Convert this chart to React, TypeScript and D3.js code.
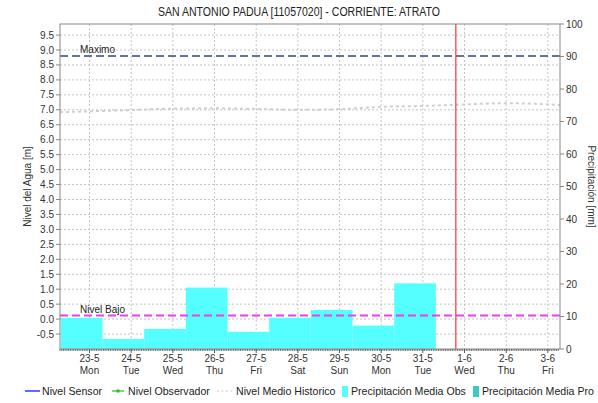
import React from "react";
import * as d3 from "d3";

// days shown on the x axis (2022)
const dayLabels = ["23-5", "24-5", "25-5", "26-5", "27-5", "28-5", "29-5", "30-5", "31-5", "1-6", "2-6", "3-6"];
const weekdays = ["Mon", "Tue", "Wed", "Thu", "Fri", "Sat", "Sun", "Mon", "Tue", "Wed", "Thu", "Fri"];
const dayDates = ["2022-05-23", "2022-05-24", "2022-05-25", "2022-05-26", "2022-05-27", "2022-05-28", "2022-05-29", "2022-05-30", "2022-05-31", "2022-06-01", "2022-06-02", "2022-06-03"];

// precipitacion media obs [mm], one bar per day (7am to 7am)
const precipDays = ["2022-05-23", "2022-05-24", "2022-05-25", "2022-05-26", "2022-05-27", "2022-05-28", "2022-05-29", "2022-05-30", "2022-05-31"];
const precipObs = [9.6, 3.1, 6.2, 18.9, 5.3, 9.6, 12.0, 7.2, 20.2];

// nivel medio historico [m]
const histDates = ["2022-05-22T07:00", "2022-05-23", "2022-05-24", "2022-05-25", "2022-05-26", "2022-05-27", "2022-05-28", "2022-05-29", "2022-05-30", "2022-05-31", "2022-06-01", "2022-06-02", "2022-06-03T07:00"];
const histValues = [6.92, 6.95, 6.99, 7.04, 7.05, 7.03, 7.0, 7.02, 7.1, 7.13, 7.18, 7.22, 7.16];

const maximo = 8.8;
const nivelBajo = 0.12;
const nowTime = "2022-05-31T19:00";

const leftTicks = d3.range(-0.5, 9.51, 0.5);
const rightTicks = d3.range(0, 101, 10);

const W = 598, H = 403;
const m = { top: 24, left: 60, right: 38, bottom: 54 };
const font = "'Liberation Sans', Arial, sans-serif";

const dt = (s: string) => new Date(s.length > 10 ? s + ":00Z" : s + "T00:00:00Z");

export default function App() {
  const x = d3.scaleUtc()
    .domain([dt("2022-05-22T07:00"), dt("2022-06-03T07:00")])
    .range([m.left, W - m.right]);
  const y = d3.scaleLinear().domain([-1, 9.87]).range([H - m.bottom, m.top]);
  const y2 = d3.scaleLinear().domain([0, 100]).range([H - m.bottom, m.top]);

  const x0 = m.left, x1 = W - m.right, yb = H - m.bottom, yt = m.top;
  const hours = d3.utcHour.every(1)!.range(x.domain()[0], x.domain()[1]);

  const histLine = d3.line<number>()
    .x((_, i) => x(dt(histDates[i])))
    .y(d => y(d))
    .curve(d3.curveMonotoneX);

  const gridColor = "#c4c4c4";

  return (
    <svg width={W} height={H} style={{ position: "absolute", left: 0, top: 0, background: "#fff" }} fontFamily={font}>
      <rect width={W} height={H} fill="#fff" />
      <text x={W / 2} y={16} textAnchor="middle" fontSize={12} fill="#222" textLength={282} lengthAdjust="spacingAndGlyphs">
        SAN ANTONIO PADUA [11057020] - CORRIENTE: ATRATO
      </text>

      <defs>
        <clipPath id="plot">
          <rect x={x0} y={yt} width={x1 - x0} height={yb - yt} />
        </clipPath>
      </defs>

      {/* grid */}
      {leftTicks.map(t => (
        <line key={"h" + t} x1={x0} x2={x1} y1={y(t)} y2={y(t)} stroke={gridColor} strokeDasharray="2,2" />
      ))}
      {dayDates.map(d => (
        <line key={"v" + d} x1={x(dt(d))} x2={x(dt(d))} y1={yt} y2={yb} stroke={gridColor} strokeDasharray="2,2" />
      ))}

      {/* precipitation bars */}
      <g clipPath="url(#plot)">
        {precipDays.map((d, i) => {
          const end = d3.utcMinute.offset(dt(d), 7 * 60 + 30);
          const start = d3.utcDay.offset(end, -1);
          return (
            <rect key={d} x={x(start)} width={x(end) - x(start)} y={y2(precipObs[i])}
              height={yb - y2(precipObs[i])} fill="#55ffff" />
          );
        })}

        <path d={histLine(histValues) || ""} fill="none" stroke="#cfcfcf" strokeWidth={2} strokeDasharray="3,3" />

        <line x1={x0} x2={x1} y1={y(maximo)} y2={y(maximo)} stroke="#6272a6" strokeWidth={2} strokeDasharray="8,4" />
        <line x1={x0} x2={x1} y1={y(nivelBajo)} y2={y(nivelBajo)} stroke="#f03cf0" strokeWidth={2} strokeDasharray="8,4" />
        <line x1={x(dt(nowTime))} x2={x(dt(nowTime))} y1={yt} y2={yb} stroke="#ff3030" strokeWidth={1.2} />
      </g>
      <text x={80} y={y(maximo) - 3} fontSize={10} fill="#222">Maximo</text>
      <text x={80} y={y(nivelBajo) - 3} fontSize={10} fill="#222">Nivel Bajo</text>

      {/* frame */}
      <rect x={x0} y={yt} width={x1 - x0} height={yb - yt} fill="none" stroke="#888" />

      {/* left axis */}
      {leftTicks.map(t => (
        <g key={"l" + t}>
          <line x1={x0 - 4} x2={x0} y1={y(t)} y2={y(t)} stroke="#888" />
          <text x={x0 - 6} y={y(t) + 3.5} textAnchor="end" fontSize={10} fill="#333">{t.toFixed(1)}</text>
        </g>
      ))}
      <text transform={`translate(31,${(yt + yb) / 2}) rotate(-90)`} textAnchor="middle" fontSize={10} fill="#333">
        Nivel del Agua [m]
      </text>

      {/* right axis */}
      {rightTicks.map(t => (
        <g key={"r" + t}>
          <line x1={x1} x2={x1 + 4} y1={y2(t)} y2={y2(t)} stroke="#888" />
          <text x={x1 + 6} y={y2(t) + 3.5} fontSize={10} fill="#333">{t}</text>
        </g>
      ))}
      <text transform={`translate(588,${(yt + yb) / 2}) rotate(90)`} textAnchor="middle" fontSize={10} fill="#333">
        Precipitación [mm]
      </text>

      {/* bottom axis */}
      {hours.map(h => (
        <line key={+h} x1={x(h)} x2={x(h)} y1={yb} y2={yb + 2} stroke="#555" strokeWidth={0.8} />
      ))}
      {dayDates.map((d, i) => (
        <g key={"b" + d}>
          <line x1={x(dt(d))} x2={x(dt(d))} y1={yb} y2={yb + 4} stroke="#555" />
          <text x={x(dt(d))} y={yb + 13} textAnchor="middle" fontSize={10} fill="#333">{dayLabels[i]}</text>
          <text x={x(dt(d))} y={yb + 25} textAnchor="middle" fontSize={10} fill="#333">{weekdays[i]}</text>
        </g>
      ))}

      {/* legend */}
      <g fontSize={10.6} fill="#222">
        <line x1={25} x2={40} y1={391} y2={391} stroke="#0000ff" strokeWidth={1.2} />
        <text x={42} y={395}>Nivel Sensor</text>
        <line x1={112} x2={124} y1={391} y2={391} stroke="#33bb22" strokeWidth={1.2} />
        <rect x={116.5} y={389.5} width={3} height={3} fill="#33bb22" />
        <text x={128} y={395}>Nivel Observador</text>
        <line x1={217} x2={232} y1={391} y2={391} stroke="#c8c8c8" strokeWidth={1.2} strokeDasharray="2,2.5" />
        <text x={236} y={395}>Nivel Medio Historico</text>
        <rect x={342} y={386} width={6} height={11} fill="#55ffff" />
        <text x={351} y={395}>Precipitación Media Obs</text>
        <rect x={473} y={386} width={6} height={11} fill="#40c8c8" />
        <text x={482} y={395}>Precipitación Media Pro</text>
      </g>
    </svg>
  );
}
